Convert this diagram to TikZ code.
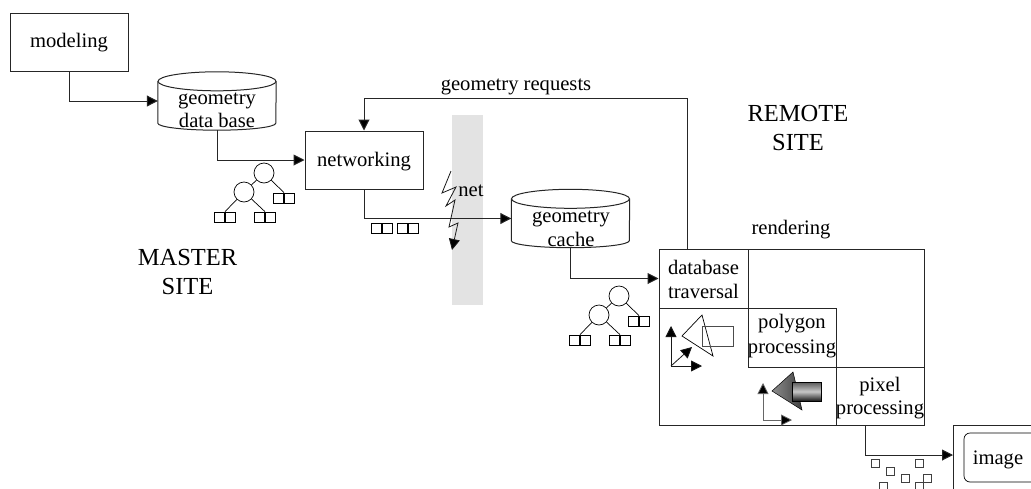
\documentclass[tikz,border=0pt]{standalone}
\usepackage{fontspec}
\setmainfont{Liberation Serif}
\usetikzlibrary{arrows.meta,calc}
\tikzset{
  x=1pt,y=-1pt,
  ln/.style={draw=black!85,line width=1pt},
  arr/.style={ln,-{Triangle[length=11pt,width=11pt,fill=black]}},
  thin arr/.style={draw=black!90,line width=0.8pt,-{Triangle[length=11pt,width=11pt,fill=black]}},
  lbl/.style={font=\fontsize{20.6}{23.5}\selectfont,align=center,inner sep=0pt},
  big/.style={font=\fontsize{24.5}{29}\selectfont,align=center,inner sep=0pt},
  boxn/.style={ln,fill=white,minimum width=118pt,minimum height=58pt,inner sep=0pt},
  cylbase/.style={minimum width=118pt,minimum height=58pt,inner sep=0pt},
  plainbox/.style={ln,inner sep=0pt},
  sq/.style={draw=black,line width=0.7pt,minimum size=10pt,inner sep=0pt},
  tinysq/.style={draw=black!75,line width=0.7pt,minimum size=8pt,inner sep=0pt},
  circ/.style={draw=black,line width=0.7pt,fill=white,circle,minimum size=20pt,inner sep=0pt},
  tl/.style={draw=black,line width=0.7pt},
}
\newcommand{\cyl}[1]{%
  \draw[ln,fill=white] ($(#1.north west)+(0,9.5)$) -- ($(#1.south west)+(0,-7)$)
    arc[start angle=180,end angle=360,x radius=59pt,y radius=7pt]
    -- ($(#1.north east)+(0,9.5)$);
  \draw[ln,fill=white] ($(#1.north)+(0,9.5)$) ellipse[x radius=59pt,y radius=9.5pt];
}
\newcommand{\pair}[3]{%
  \node[sq,anchor=east] (#1a) at (#2,#3) {};
  \node[sq,anchor=west] (#1b) at (#2,#3) {};
}
\newcommand{\tree}[3]{%
  \begin{scope}[shift={(#2,#3)}]
    \node[circ] (#1c1) at (264,173) {};
    \node[circ] (#1c2) at (244,192) {};
    \pair{#1l1}{284}{198}
    \pair{#1l2}{225}{217}
    \pair{#1l3}{265}{217}
    \draw[tl] (#1c1) -- (#1c2);
    \draw[tl] (#1c1) -- (#1l1a.north east);
    \draw[tl] (#1c2) -- (#1l2a.north east);
    \draw[tl] (#1c2) -- (#1l3a.north east);
  \end{scope}
}
\begin{document}
\begin{tikzpicture}
\useasboundingbox (0,0) rectangle (1031,488);
% net band
\fill[black!11] (452,115) rectangle (483,305);

\node[boxn] (modeling) at (69,42) {};
\node[lbl] (modelingt) at (69,43) {modeling};
\node[boxn] (networking) at (364,160) {};
\node[lbl] (networkingt) at (364,162) {networking};
\node[cylbase] (db) at (217,101) {};
\cyl{db}
\node[lbl] (dbt) at (217,110.5) {geometry\\data base};
\node[cylbase] (cache) at (570.5,218.5) {};
\cyl{cache}
\node[lbl] (cachet) at (571,229) {geometry\\cache};

% rendering
\node[plainbox,minimum width=265pt,minimum height=176pt] (render) at (791.5,337) {};
\node[plainbox,minimum width=89pt,minimum height=59pt] (trav) at (703.5,278.5) {};
\node[lbl] (travt) at (703.5,279.5) {database\\traversal};
\node[plainbox,minimum width=88pt,minimum height=59pt] (poly) at (792,337.5) {};
\node[lbl,font=\fontsize{20.6}{25}\selectfont] (polyt) at (792,336.5) {polygon\\processing};
\node[plainbox,minimum width=88pt,minimum height=58pt] (pix) at (880,396) {};
\node[lbl] (pixt) at (880,398) {pixel\\processing};
\node[lbl] (rendl) at (791,230) {rendering};

% image (runs off the page)
\draw[ln] (1040,425) -- (953,425) -- (953,495);
\coordinate (imgin) at (953,455);
\node[draw=black,line width=0.7pt,rounded corners=6pt,minimum width=76pt,minimum height=49pt,inner sep=0pt] (imgbox) at (1002,457.5) {};
\node[lbl] (imgt) at (998,460) {image};

% connectors
\draw[arr] (modeling.south) |- (db.west);
\draw[arr] (db.south) |- (networking.west);
\draw[arr] (networking.south) |- (cache.west);
\draw[arr] (cache.south) |- (trav.west);
\coordinate (reqs) at (687,249);
\coordinate (reqt) at (687,98);
\draw[arr] (reqs) -- (reqt) -| (networking.north);
\coordinate (pixout) at (865,425);
\draw[arr] (pixout) |- (imgin);

% lightning
\coordinate (lz) at (451,171);
\draw[thin arr] (lz) -- (442,193) -- (456,187) -- (446,206) -- (455,200) -- (449,227) -- (458,223) -- (452,250);

% labels
\node[lbl] (netl) at (471,191) {net};
\node[lbl] (reql) at (516,87) {geometry requests};
\node[big] (master) at (187.5,272.5) {MASTER\\SITE};
\node[big] (remote) at (798,128) {REMOTE\\SITE};

\tree{a}{0}{0}
\tree{b}{355}{123}
\pair{p1}{382}{228}
\pair{p2}{408}{228}

% first object
\coordinate (o1) at (671,366);
\coordinate (o1u) at (671,326);
\coordinate (o1r) at (702,366);
\coordinate (o1d) at (692,347);
\draw[thin arr] (o1) -- (o1u);
\draw[thin arr] (o1) -- (o1r);
\draw[thin arr] (o1) -- (o1d);
\draw[tl] (682,336) -- (702,315) -- (713,356) -- cycle;
\draw[tl,draw=black!70] (702,326) rectangle (733,346);

% second object
\coordinate (o2) at (763,420);
\coordinate (o2u) at (763,383);
\coordinate (o2r) at (792,420);
\draw[thin arr,draw=black!60] (o2) -- (o2u);
\draw[thin arr,draw=black!60] (o2) -- (o2r);
\shade[left color=black!45,right color=black!75,draw=black,line width=0.5pt] (772,391) -- (793,372) -- (802,410) -- cycle;
\shade[top color=black!65,bottom color=black!90,middle color=black!22,draw=black,line width=0.5pt] (792,382) rectangle (821,401);

% scattered squares
\foreach \n/\x/\y in {s1/875/463.5,s2/890/471,s3/919/463.5,s4/905/478,s5/883/486,s6/927/478,s7/919/486}{
  \node[tinysq] (\n) at (\x,\y) {};
}
\end{tikzpicture}
\end{document}
